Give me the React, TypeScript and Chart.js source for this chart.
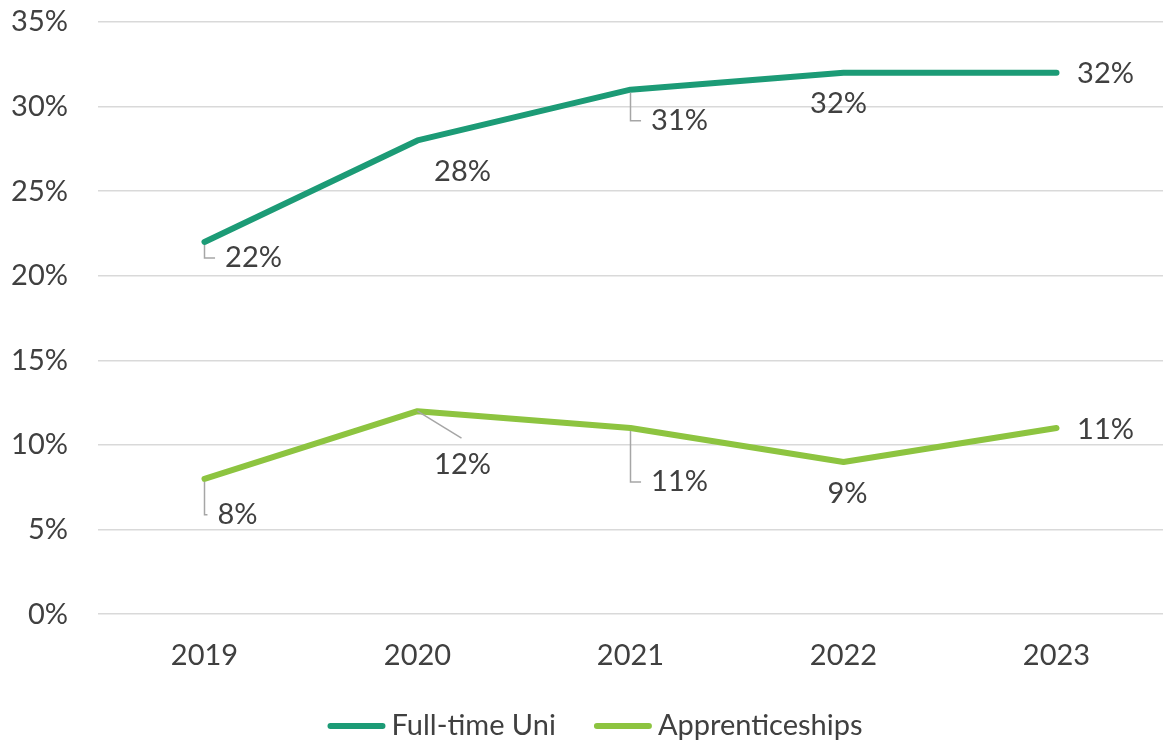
import React, { useEffect, useRef } from "react";
import { Chart, registerables } from "chart.js";

Chart.register(...registerables);

const years = ["2019", "2020", "2021", "2022", "2023"];
const fullTimeUni = [22, 28, 31, 32, 32];
const apprenticeships = [8, 12, 11, 9, 11];
const seriesNames = ["Full-time Uni", "Apprenticeships"];
const yTickValues = [0, 5, 10, 15, 20, 25, 30, 35];

const COLORS = ["#1C9B76", "#8DC440"];
const FONT = "Lato, 'Open Sans', sans-serif";
const FONT_SIZE = 29;
const TEXT = "#404040";

// label placement (style): offset of label centre from its point, and leader type
type Place = { dx: number; dy: number; leader: "none" | "elbow" | "diag" };
const labelPlaces: Place[][] = [
  [
    { dx: 49, dy: 16, leader: "elbow" },
    { dx: 45, dy: 31, leader: "none" },
    { dx: 49, dy: 31, leader: "elbow" },
    { dx: -5, dy: 31, leader: "none" },
    { dx: 49, dy: 1, leader: "none" },
  ],
  [
    { dx: 33, dy: 36, leader: "elbow" },
    { dx: 45, dy: 53, leader: "diag" },
    { dx: 49, dy: 54, leader: "elbow" },
    { dx: 4, dy: 32, leader: "none" },
    { dx: 49, dy: 2, leader: "none" },
  ],
];

const dataLabelPlugin = {
  id: "dataLabelsCustom",
  afterDatasetsDraw(chart: any) {
    const ctx = chart.ctx;
    ctx.save();
    ctx.font = `${FONT_SIZE}px ${FONT}`;
    ctx.textBaseline = "middle";
    ctx.textAlign = "center";
    chart.data.datasets.forEach((ds: any, di: number) => {
      const meta = chart.getDatasetMeta(di);
      meta.data.forEach((pt: any, i: number) => {
        const place = labelPlaces[di][i];
        const text = `${ds.data[i]}%`;
        const cx = pt.x + place.dx;
        const cy = pt.y + place.dy;
        const w = ctx.measureText(text).width;
        ctx.strokeStyle = "#A6A6A6";
        ctx.lineWidth = 1.5;
        if (place.leader === "elbow") {
          ctx.beginPath();
          ctx.moveTo(pt.x, pt.y + 3);
          ctx.lineTo(pt.x, cy);
          ctx.lineTo(cx - w / 2 - 10, cy);
          ctx.stroke();
        } else if (place.leader === "diag") {
          ctx.beginPath();
          ctx.moveTo(pt.x, pt.y);
          ctx.lineTo(cx - 1, cy - 26);
          ctx.stroke();
        }
        ctx.fillStyle = TEXT;
        ctx.fillText(text, cx, cy);
      });
    });
    ctx.restore();
  },
};

const legendPlugin = {
  id: "legendCustom",
  afterDraw(chart: any) {
    const ctx = chart.ctx;
    ctx.save();
    ctx.font = `${FONT_SIZE}px ${FONT}`;
    ctx.textBaseline = "middle";
    ctx.textAlign = "left";
    const lineW = 58;
    const gapText = 6;
    const gapItems = 38;
    const items = chart.data.datasets.map((d: any) => ({
      label: d.label,
      color: d.borderColor,
      w: lineW + gapText + ctx.measureText(d.label).width,
    }));
    const total = items.reduce((a: number, it: any) => a + it.w, 0) + gapItems * (items.length - 1);
    let x = 595 - total / 2;
    const y = chart.height - 18;
    items.forEach((it: any) => {
      ctx.strokeStyle = it.color;
      ctx.lineWidth = 6;
      ctx.lineCap = "round";
      ctx.beginPath();
      ctx.moveTo(x + 3, y);
      ctx.lineTo(x + lineW - 3, y);
      ctx.stroke();
      ctx.fillStyle = TEXT;
      ctx.fillText(it.label, x + lineW + gapText, y);
      x += it.w + gapItems;
    });
    ctx.restore();
  },
};

export default function App() {
  const ref = useRef<HTMLCanvasElement>(null);
  useEffect(() => {
    document.body.style.margin = "0";
    const chart = new Chart(ref.current!, {
      type: "line",
      data: {
        labels: years,
        datasets: [
          {
            label: seriesNames[0],
            data: fullTimeUni,
            borderColor: COLORS[0],
            backgroundColor: COLORS[0],
            borderWidth: 6,
            pointRadius: 0,
            tension: 0,
            borderCapStyle: "round",
            borderJoinStyle: "round",
          },
          {
            label: seriesNames[1],
            data: apprenticeships,
            borderColor: COLORS[1],
            backgroundColor: COLORS[1],
            borderWidth: 6,
            pointRadius: 0,
            tension: 0,
            borderCapStyle: "round",
            borderJoinStyle: "round",
          },
        ],
      },
      options: {
        animation: false,
        responsive: false,
        maintainAspectRatio: false,
        layout: { padding: { top: 22, right: 0, left: 0, bottom: 55 } },
        plugins: {
          tooltip: { enabled: false },
          legend: { display: false },
        },
        scales: {
          x: {
            offset: true,
            grid: { display: false },
            border: { display: false },
            ticks: {
              font: { family: FONT, size: FONT_SIZE },
              color: TEXT,
              padding: 16,
              maxRotation: 0,
            },
            afterFit: (s: any) => {
              s.paddingLeft = 0;
              s.paddingRight = 0;
            },
          },
          y: {
            min: 0,
            max: 35,
            afterFit: (s: any) => {
              s.width = 98;
              s.paddingTop = 0;
              s.paddingBottom = 0;
            },
            afterBuildTicks: (s: any) => {
              s.ticks = yTickValues.map((v) => ({ value: v }));
            },
            grid: { color: "#D9D9D9", lineWidth: 1.5, drawTicks: false },
            border: { display: false },
            ticks: {
              font: { family: FONT, size: FONT_SIZE },
              color: TEXT,
              padding: 30,
              callback: (v: any) => `${v}%`,
            },
          },
        },
      },
      plugins: [dataLabelPlugin, legendPlugin],
    });
    return () => chart.destroy();
  }, []);
  return <canvas ref={ref} width={1163} height={744} style={{ display: "block" }} />;
}
